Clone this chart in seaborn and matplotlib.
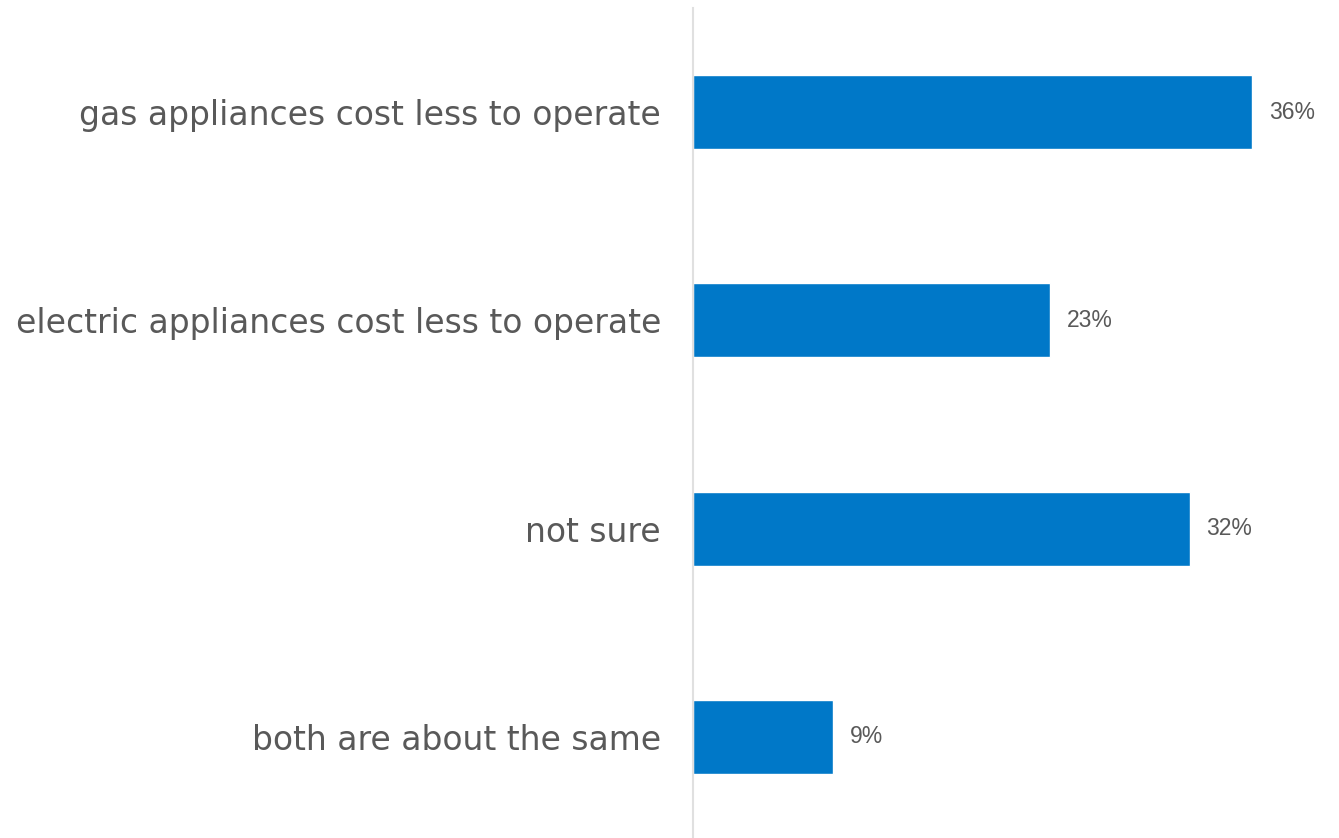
import pandas as pd
import seaborn as sns
import matplotlib.pyplot as plt

categories = [
    "gas appliances cost less to operate",
    "electric appliances cost less to operate",
    "not sure",
    "both are about the same",
]
values = [36, 23, 32, 9]
value_labels = ["36%", "23%", "32%", "9%"]

df = pd.DataFrame({"answer": categories, "pct": values})

sns.set_style("white")
plt.rcParams["font.family"] = ["Liberation Sans", "DejaVu Sans"]

fig = plt.figure(figsize=(13.39, 8.38), dpi=100)
ax = fig.add_axes([693 / 1339, -3 / 838, (1339 - 693) / 1339, (838 - 8 + 3) / 838])

sns.barplot(data=df, x="pct", y="answer", color="#0078C8", saturation=1,
            width=0.355, ax=ax)

for i, (v, lab) in enumerate(zip(values, value_labels)):
    ax.annotate(lab, (v, i), xytext=(12, 0), textcoords="offset points",
                ha="left", va="center", fontsize=16.5, color="#595959")

ax.set_xlim(0, 41.6)
ax.set_ylim(3.5, -0.5)
ax.set_xlabel("")
ax.set_ylabel("")
ax.set_xticks([])
ax.tick_params(axis="y", length=0, pad=23, labelsize=23.8, labelcolor="#595959")
for lbl in ax.get_yticklabels():
    lbl.set_family("DejaVu Sans")
for s in ["top", "right", "bottom"]:
    ax.spines[s].set_visible(False)
ax.spines["left"].set_color("#e0e0e0")
ax.spines["left"].set_linewidth(1.5)

plt.savefig("out.png", dpi=100)
